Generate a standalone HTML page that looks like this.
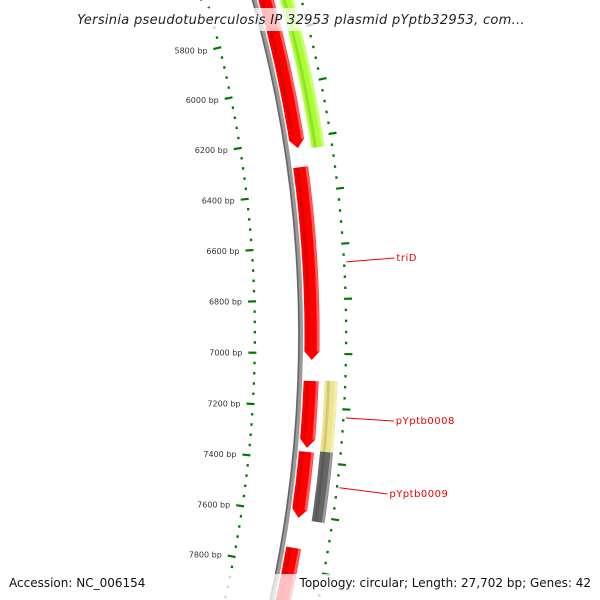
<!DOCTYPE html>
<html><head><meta charset="utf-8"><style>
body{margin:0;background:#fff;overflow:hidden}
svg{display:block;font-family:"DejaVu Sans","Liberation Sans",sans-serif}
</style></head><body>
<svg id="map" width="600" height="600" viewBox="0 0 600 600" xmlns="http://www.w3.org/2000/svg">
<g id="ticks"></g>
<g id="backbone"></g>
<g id="features"></g>
<g id="labels"></g>
<rect x="60" y="8" width="480" height="23" fill="#fff" opacity="0.75"/>
<text x="301" y="24" text-anchor="middle" font-size="13" font-style="italic" fill="#222" letter-spacing="0.3">Yersinia pseudotuberculosis IP 32953 plasmid pYptb32953, com...</text>
<rect x="0" y="574" width="600" height="26" fill="#fff" opacity="0.75"/>
<text x="9" y="587" font-size="12" fill="#111">Accession: NC_006154</text>
<text x="591" y="587" font-size="12" text-anchor="end" fill="#111">Topology: circular; Length: 27,702 bp; Genes: 42</text>
</svg>
<script>
const featStart=[5000,6305,7102,7366,7726,5000,7099,7360];
const featEnd=[6234,7024,7351,7613,8400,6241,7360,7618];
const featRing=["inner","inner","inner","inner","inner","outer","outer","outer"];
const featColor=["#ff0000","#ff0000","#ff0000","#ff0000","#ff0000","#aaff33","#eee68c","#666666"];
const featArrow=[true,true,true,true,false,false,false,false];
const tickMajor=[5800,6000,6200,6400,6600,6800,7000,7200,7400,7600,7800];
const tickLabels=["5800 bp","6000 bp","6200 bp","6400 bp","6600 bp","6800 bp","7000 bp","7200 bp","7400 bp","7600 bp","7800 bp"];
const labelNames=["triD","pYptb0008","pYptb0009"];
const labelBp=[6667,7231,7484];
const labelY=[258,421,494];

const NS="http://www.w3.org/2000/svg";
const cx=-932.5, cy=335, k=2.162e-4, p0=6931;
function ang(bp){return k*(bp-p0);}
function pt(r,bp){const a=ang(bp);return [cx+r*Math.cos(a),cy+r*Math.sin(a)];}
function mk(tag,attrs,parent){const e=document.createElementNS(NS,tag);for(const a in attrs)e.setAttribute(a,attrs[a]);parent.appendChild(e);return e;}
function arcPath(r,a,b){const p=pt(r,a),q=pt(r,b);return `M${p[0]},${p[1]} A${r},${r} 0 0 1 ${q[0]},${q[1]}`;}

const bb=document.getElementById('backbone');
let e=mk('path',{d:arcPath(1233,4000,9800),fill:'none',stroke:'#9a9a9a',"stroke-width":5},bb);


e=mk('path',{d:arcPath(1231.5,4000,9800),fill:'none',stroke:'#666',"stroke-width":1.5},bb);



const tg=document.getElementById('ticks');
const Ri=1189, Ro=1277;
for(let bp=5400;bp<=8400;bp+=40){
  const major=(bp%200===0);
  [[Ri,-1],[Ro,1]].forEach(([r,dir])=>{
    let t;
    if(major){const a=pt(r,bp),b=pt(r+dir*8,bp);
      t=mk('line',{x1:a[0],y1:a[1],x2:b[0],y2:b[1],stroke:'#007a00',"stroke-width":2.2},tg);}
    else{const a=pt(r+dir*0.5,bp),b=pt(r+dir*2.8,bp);
      t=mk('line',{x1:a[0],y1:a[1],x2:b[0],y2:b[1],stroke:'#007a00',"stroke-width":2.5},tg);}
    
    
  });
}
tickMajor.forEach((bp,i)=>{
  const p=pt(Ri-14,bp);
  const t=mk('text',{x:p[0],y:p[1]+3,"text-anchor":"end","font-size":"8",fill:'#333'},tg);
  t.textContent=tickLabels[i];
  
  
});

const fg=document.getElementById('features');
const arrowBp=32;
featStart.forEach((s,i)=>{
  const en=featEnd[i];
  const r1=featRing[i]==="inner"?1237:1258, r2=featRing[i]==="inner"?1252:1271;
  const rm=(r1+r2)/2;
  const endB=featArrow[i]?en-arrowBp:en;
  const a=pt(r2,s),b=pt(r2,endB),c=pt(r1,endB),d=pt(r1,s),tip=pt(rm,en);
  let dd=`M${a[0]},${a[1]} A${r2},${r2} 0 0 1 ${b[0]},${b[1]} `;
  if(featArrow[i]) dd+=`L${tip[0]},${tip[1]} `;
  dd+=`L${c[0]},${c[1]} A${r1},${r1} 0 0 0 ${d[0]},${d[1]} Z`;
  const f=mk('path',{d:dd,fill:featColor[i]},fg);
  
  
  const hl=mk('path',{d:arcPath(r2-1.5,s,endB),fill:'none',stroke:'#fff',"stroke-opacity":0.35,"stroke-width":2.5},fg);
  
  
  const sh=mk('path',{d:arcPath(r1+4,s,endB),fill:'none',stroke:'#000',"stroke-opacity":0.12,"stroke-width":3},fg);
  
  
});

const lg=document.getElementById('labels');
labelNames.forEach((n,i)=>{
  const p=pt(Ro+4,labelBp[i]);
  const tx=p[0]+48;
  const l=mk('line',{x1:p[0],y1:p[1],x2:tx,y2:labelY[i],stroke:'#ee0000',"stroke-width":1},lg);
  
  
  const t=mk('text',{x:tx+2,y:labelY[i]+3,"font-size":"10",fill:'#ee0000',"letter-spacing":"0.5"},lg);
  t.textContent=n;
  
  
});
</script>
</body></html>
